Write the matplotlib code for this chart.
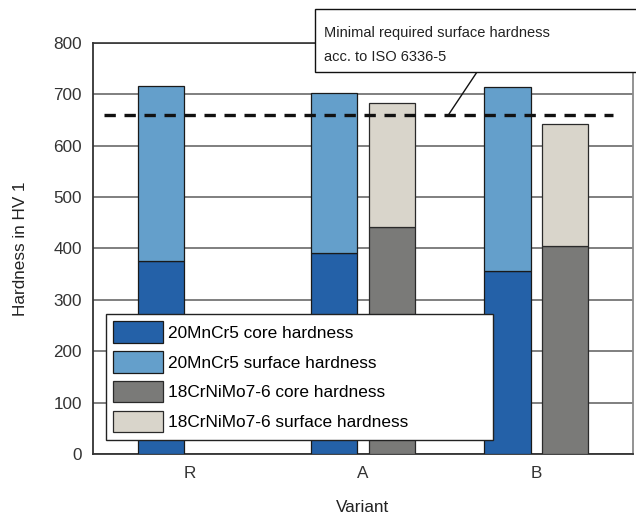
import matplotlib
matplotlib.use("Agg")
import matplotlib.pyplot as plt
from matplotlib.patches import Rectangle
from matplotlib.lines import Line2D
import numpy as np

plt.rcParams['font.family'] = ['Liberation Sans', 'DejaVu Sans']

variants = ["R", "A", "B"]
mn_core = [375, 391, 357]
mn_surface = [716, 703, 714]
cr_core = [0, 442, 405]
cr_surface = [0, 684, 642]
min_required = 660
yticks = [0, 100, 200, 300, 400, 500, 600, 700, 800]
labels = ["20MnCr5 core hardness", "20MnCr5 surface hardness",
          "18CrNiMo7-6 core hardness", "18CrNiMo7-6 surface hardness"]
note_lines = ["Minimal required surface hardness", "acc. to ISO 6336-5"]

c_mn_core = "#2461A8"
c_mn_surf = "#649FCB"
c_cr_core = "#7A7A78"
c_cr_surf = "#D9D5CB"

W, H = 636, 520
fig = plt.figure(figsize=(W/100, H/100), dpi=100)
ax = fig.add_axes([93/W, 1-454/H, (633-93)/W, (454-43)/H])

x = np.arange(len(variants))
bw = 0.266
off = 0.165

mn_core = np.array(mn_core); mn_surface = np.array(mn_surface)
cr_core = np.array(cr_core); cr_surface = np.array(cr_surface)

ax.set_axisbelow(True)
ax.yaxis.grid(True, color="#6a6a6a", linewidth=1.2)

h1 = ax.bar(x-off, mn_core, bw, color=c_mn_core, edgecolor="#1a1a1a", linewidth=0.9, zorder=3)
h2 = ax.bar(x-off, mn_surface-mn_core, bw, bottom=mn_core, color=c_mn_surf, edgecolor="#1a1a1a", linewidth=0.9, zorder=3)
mask = cr_surface > 0
h3 = ax.bar(x[mask]+off, cr_core[mask], bw, color=c_cr_core, edgecolor="#2a2a2a", linewidth=0.9, zorder=3)
h4 = ax.bar(x[mask]+off, (cr_surface-cr_core)[mask], bw, bottom=cr_core[mask], color=c_cr_surf, edgecolor="#2a2a2a", linewidth=0.9, zorder=3)

ax.plot([-0.494, 2.442], [min_required, min_required], color="#111111", lw=2.4,
        dashes=(3.4, 2.6), zorder=4)

ax.set_xlim(-0.56, 2.56)
ax.set_ylim(0, 800)
ax.set_yticks(yticks)
ax.set_xticks(x)
ax.set_xticklabels(variants)
ax.tick_params(axis='y', length=0, labelsize=12.3, pad=8, colors="#333333")
ax.tick_params(axis='x', length=0, labelsize=12.3, pad=9, colors="#333333")
ax.set_ylabel("Hardness in HV 1", fontsize=12.3, labelpad=18, color="#222222")
ax.set_xlabel("Variant", fontsize=12.3, labelpad=13, color="#222222")

for s in ['left', 'bottom']:
    ax.spines[s].set_color("#333333")
    ax.spines[s].set_linewidth(1.3)
ax.spines['right'].set_color("#8a8a8a")
ax.spines['right'].set_linewidth(1.3)
ax.spines['top'].set_color("#333333")
ax.spines['top'].set_linewidth(1.2)

leg = ax.legend([h1, h2, h3, h4], labels, loc='upper left',
                bbox_to_anchor=(106/W, 1-440/H, 387/W, 126/H), bbox_transform=fig.transFigure,
                mode='expand',
                borderaxespad=0, fancybox=False, framealpha=1, edgecolor="#222222",
                fontsize=12.4, handlelength=2.9, handleheight=1.55, labelspacing=0.48,
                handletextpad=0.3, borderpad=0.42)
leg.get_frame().set_linewidth(1.0)
leg.set_zorder(6)

# annotation box
box = Rectangle((315/W, 1-72/H), 340/W, 63/H, transform=fig.transFigure,
                facecolor="white", edgecolor="#111111", linewidth=1.0, zorder=10,
                clip_on=False)
fig.patches.append(box)
fig.text(324/W, 1-33/H, note_lines[0], fontsize=10.5, va='center', ha='left', color="#222222", zorder=11)
fig.text(324/W, 1-57/H, note_lines[1], fontsize=10.5, va='center', ha='left', color="#222222", zorder=11)
fig.add_artist(Line2D([477/W, 449/W], [1-72/H, 1-114/H], transform=fig.transFigure,
                      color="#111111", linewidth=1.0))

fig.savefig("out.png", dpi=100)
